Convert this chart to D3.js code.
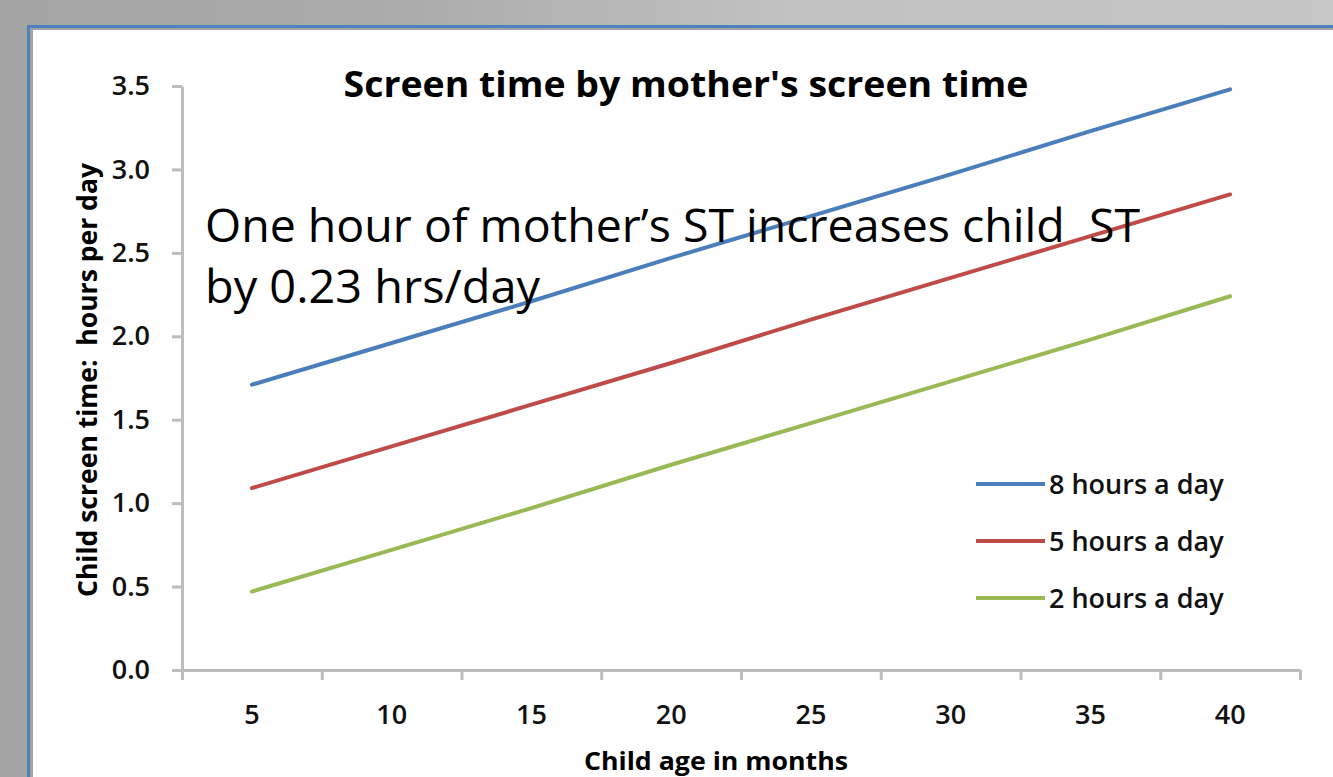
<!DOCTYPE html>
<html>
<head>
<meta charset="utf-8">
<script src="https://cdn.jsdelivr.net/npm/d3@7"></script>
<style>
  html, body { margin: 0; padding: 0; background: #fff; }
  svg { display: block; font-family: "Open Sans", "Noto Sans", sans-serif; }
  svg text { white-space: pre; }
</style>
</head>
<body>
<script>
// chart values
const ages = [5, 10, 15, 20, 25, 30, 35, 40];
const eightHours = [1.71, 1.96, 2.21, 2.47, 2.72, 2.97, 3.23, 3.48];
const fiveHours = [1.09, 1.34, 1.59, 1.84, 2.1, 2.35, 2.6, 2.85];
const twoHours = [0.47, 0.72, 0.97, 1.23, 1.48, 1.73, 1.98, 2.24];
const seriesNames = ["8 hours a day", "5 hours a day", "2 hours a day"];
const seriesColors = ["#4a7ebb", "#be4b48", "#98b954"];
const yTicks = [0, 0.5, 1, 1.5, 2, 2.5, 3, 3.5];

const chartTitle = "Screen time by mother's screen time";
const yTitle = "Child screen time:  hours per day";
const xTitle = "Child age in months";
const noteLines = ["One hour of mother\u2019s ST increases child  ST", "by 0.23 hrs/day"];

const width = 1333;
const height = 777;
const axisColor = "#bdbdbd";

const svg = d3
  .select("body")
  .append("svg")
  .attr("width", width)
  .attr("height", height);

/** BACKGROUND + FRAME */
const grad = svg
  .append("defs")
  .append("linearGradient")
  .attr("id", "bg")
  .attr("x1", "0%")
  .attr("x2", "100%")
  .attr("y1", "0%")
  .attr("y2", "0%");
grad.append("stop").attr("offset", "0%").attr("stop-color", "#a4a4a4");
grad.append("stop").attr("offset", "30%").attr("stop-color", "#ababab");
grad.append("stop").attr("offset", "60%").attr("stop-color", "#c2c2c2");
grad.append("stop").attr("offset", "100%").attr("stop-color", "#c6c6c6");

svg.append("rect").attr("width", width).attr("height", height).attr("fill", "url(#bg)");
svg.append("rect").attr("x", 27).attr("y", 25).attr("width", width).attr("height", height).attr("fill", "#4f81bd");
svg.append("rect").attr("x", 30).attr("y", 28).attr("width", width).attr("height", height).attr("fill", "#a3a3a3");
svg.append("rect").attr("x", 33).attr("y", 30).attr("width", width).attr("height", height).attr("fill", "#ffffff");

/** SCALES */
const x = d3.scaleBand().domain(ages).range([182, 1300]).padding(0);
const xEdge = d3.scaleLinear().domain([0, ages.length]).range(x.range());
const y = d3.scaleLinear().domain([0, 3.5]).range([670, 86]);

/** AXES */
const yAxis = svg
  .append("g")
  .attr("transform", "translate(182,0)")
  .call(
    d3.axisLeft(y)
      .tickValues(yTicks)
      .tickSize(10)
      .tickSizeOuter(0)
      .tickPadding(22)
      .tickFormat(d3.format(".1f"))
  );

// tick marks sit between the categories
const xAxis = svg
  .append("g")
  .attr("transform", "translate(0,670)")
  .call(
    d3.axisBottom(xEdge)
      .tickValues(d3.range(ages.length + 1))
      .tickSize(10)
      .tickSizeOuter(0)
      .tickFormat("")
  );

const xLabels = svg
  .append("g")
  .attr("transform", "translate(0,670)")
  .call(d3.axisBottom(x).tickSize(0).tickPadding(35));
xLabels.select(".domain").remove();

[yAxis, xAxis].forEach((g) => {
  g.select(".domain").attr("stroke", axisColor).attr("stroke-width", 3);
  g.selectAll(".tick line").attr("stroke", axisColor).attr("stroke-width", 3);
});
[yAxis, xLabels].forEach((g) => {
  g.selectAll(".tick text")
    .attr("fill", "#111")
    .attr("font-size", 27)
    .attr("font-weight", 600)
    .attr("font-family", "Open Sans");
});

/** LINES */
const series = [eightHours, fiveHours, twoHours];
const line = d3
  .line()
  .x((d, i) => x(ages[i]) + x.bandwidth() / 2)
  .y((d) => y(d));

svg
  .append("g")
  .selectAll("path")
  .data(series)
  .join("path")
  .attr("d", line)
  .attr("fill", "none")
  .attr("stroke", (d, i) => seriesColors[i])
  .attr("stroke-width", 4)
  .attr("stroke-linecap", "round");

/** LEGEND */
const legendY = d3.scalePoint().domain(seriesNames).range([484, 598]);
const legend = svg
  .append("g")
  .selectAll("g")
  .data(seriesNames)
  .join("g")
  .attr("transform", (d) => `translate(0,${legendY(d)})`);
legend
  .append("line")
  .attr("x1", 976)
  .attr("x2", 1045)
  .attr("stroke", (d, i) => seriesColors[i])
  .attr("stroke-width", 4);
legend
  .append("text")
  .attr("x", 1049)
  .attr("dy", "0.36em")
  .attr("font-size", 27)
  .attr("font-weight", 600)
  .attr("fill", "#111")
  .text((d) => d);

/** TITLES */
svg
  .append("text")
  .attr("x", 686)
  .attr("y", 97)
  .attr("text-anchor", "middle")
  .attr("font-size", 36)
  .attr("font-weight", 700)
  .attr("textLength", 685)
  .attr("lengthAdjust", "spacingAndGlyphs")
  .text(chartTitle);

svg
  .append("text")
  .attr("transform", "translate(97,380) rotate(-90)")
  .attr("text-anchor", "middle")
  .attr("font-size", 26)
  .attr("font-weight", 700)
  .attr("textLength", 434)
  .attr("lengthAdjust", "spacingAndGlyphs")
  .text(yTitle);

svg
  .append("text")
  .attr("x", 716)
  .attr("y", 770)
  .attr("text-anchor", "middle")
  .attr("font-size", 25)
  .attr("font-weight", 700)
  .attr("textLength", 264)
  .attr("lengthAdjust", "spacingAndGlyphs")
  .text(xTitle);

/** ANNOTATION (on top of the lines) */
svg
  .selectAll(".note")
  .data(noteLines)
  .join("text")
  .attr("class", "note")
  .attr("x", 205)
  .attr("y", (d, i) => 242 + i * 61)
  .attr("font-size", 46)
  .attr("fill", "#000")
  .attr("textLength", (d, i) => (i === 0 ? 935 : 335))
  .attr("lengthAdjust", "spacingAndGlyphs")
  .text((d) => d);
</script>
</body>
</html>
